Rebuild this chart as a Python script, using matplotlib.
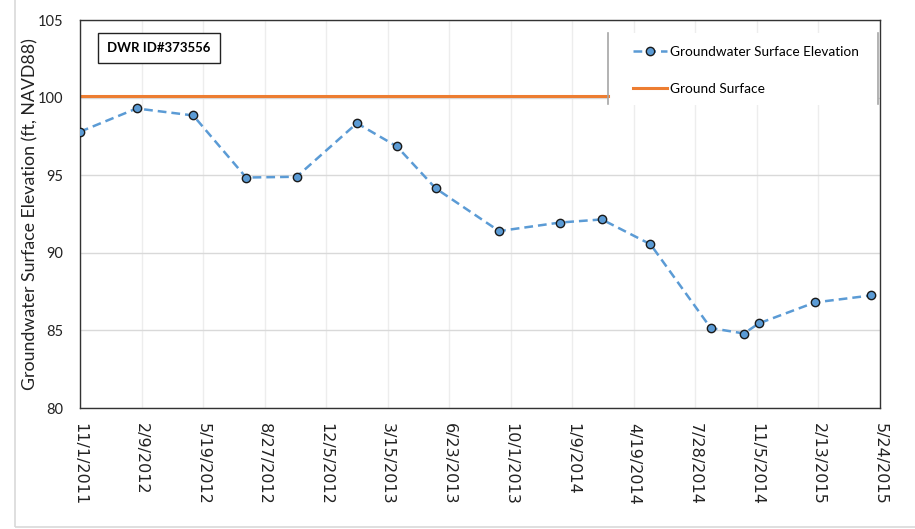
import matplotlib
matplotlib.use("Agg")
from matplotlib import pyplot as plt
from matplotlib.patches import Rectangle
from matplotlib.lines import Line2D
import pandas as pd

datum = ["2011-11-01", "2012-02-01", "2012-05-03", "2012-07-28", "2012-10-18",
         "2013-01-24", "2013-03-30", "2013-06-01", "2013-09-12", "2013-12-20",
         "2014-02-26", "2014-05-16", "2014-08-22", "2014-10-15", "2014-11-08",
         "2015-02-07", "2015-05-09"]
hoehe = [97.8, 99.3, 98.85, 94.85, 94.9, 98.35, 96.85, 94.15, 91.4, 91.95,
         92.15, 90.55, 85.15, 84.8, 85.45, 86.8, 87.25]
gelaende = 100.1
station = "DWR ID#373556"

x_start = "2011-11-01"
x_ende = "2015-05-24"
tick_abstand = 100  # Tage

blau = "#5B9BD5"
orange = "#ED7D31"

fig = plt.figure(figsize=(9.15, 5.29), dpi=100)
ax = fig.add_axes([80 / 915, 1 - 408 / 529, 800 / 915, 388 / 529])

tage = pd.to_datetime(datum)
# Linie endet am linken Rand der Legende
ax.axhline(gelaende, xmin=0, xmax=0.66, color=orange, lw=2.2,
           label="Ground Surface", zorder=2)
ax.plot(tage, hoehe, "--", color=blau, lw=1.8, dashes=(3.5, 2),
        marker="o", ms=6, mfc=blau, mec="#1a1a1a", mew=1.0,
        label="Groundwater Surface Elevation", zorder=3)

t0 = pd.Timestamp(x_start)
t1 = pd.Timestamp(x_ende)
ax.set_xlim(t0, t1)
ax.set_ylim(80, 105)
ticks = pd.date_range(t0, t1, freq=f"{tick_abstand}D")
ax.set_xticks(ticks)
ax.set_xticklabels([f"{d.month}/{d.day}/{d.year}" for d in ticks],
                   rotation=270, fontsize=11.5, family="DejaVu Sans", color="#222222")
ax.set_yticks(range(80, 106, 5))
for lab in ax.get_yticklabels():
    lab.set_fontfamily("Lato")
    lab.set_fontsize(10.5)
    lab.set_color("#222222")
ax.tick_params(axis="x", length=0, pad=11)
ax.tick_params(axis="y", length=0, pad=12)

ax.grid(axis="y", color="#D9D9D9", lw=1.0)
ax.grid(axis="x", color="#EDEDED", lw=1.0)
ax.set_axisbelow(True)
for s in ax.spines.values():
    s.set_color("#333333")
    s.set_linewidth(1.0)

ax.set_ylabel("Groundwater Surface Elevation (ft, NAVD88)", family="Lato",
              fontsize=12.8, color="#222222")
ax.yaxis.set_label_coords(-0.052, 0.5)

ax.text(0.034, 0.928, station, transform=ax.transAxes, fontsize=9.5,
        fontweight="bold", family="Lato", va="center", ha="left",
        bbox=dict(boxstyle="square,pad=0.7", fc="white", ec="#222222", lw=1.0))

# weisser Hintergrund der Legende (verdeckt das Gitter)
ax.add_patch(Rectangle((608 / 915, 1 - 105 / 529), 270 / 915, 72 / 529,
                       transform=fig.transFigure, fc="white", ec="none", zorder=1))

handles, labels = ax.get_legend_handles_labels()
leg = ax.legend(handles[::-1], labels[::-1], loc="upper left",
                bbox_to_anchor=(0.691, 0.933), borderaxespad=0, borderpad=0,
                frameon=False, prop={"family": "Lato", "size": 9.8},
                labelspacing=1.82, handlelength=2.5, handletextpad=0.25)

# seitliche Striche der Legende
for xp in (608, 878):
    fig.add_artist(Line2D([xp / 915, xp / 915], [1 - 33 / 529, 1 - 104 / 529],
                          color="#A6A6A6", lw=1.2, zorder=6))

# heller Rahmen des Diagrammbereichs
fig.add_artist(Rectangle((15 / 915, 2 / 529), 1.0, 1.0, transform=fig.transFigure,
                         fill=False, ec="#D9D9D9", lw=1.2))

fig.savefig("out.png", dpi=100)
